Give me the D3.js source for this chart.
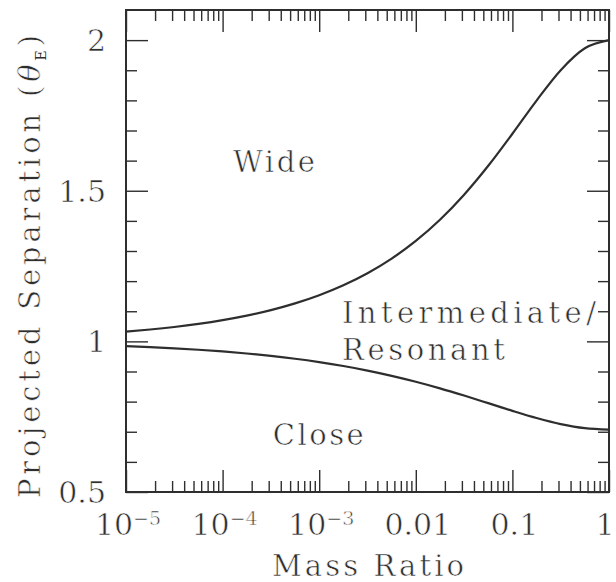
<!DOCTYPE html>
<html><head><meta charset="utf-8">
<script src="https://cdn.jsdelivr.net/npm/d3@7"></script>
<style>
html,body{margin:0;padding:0;background:#fff;}
svg{display:block;}
text{font-family:"DejaVu Serif","Liberation Serif",serif;fill:#2e2e2e;stroke:#fff;stroke-width:0.6px;}
tspan.sub{stroke:none;}
</style></head><body>
<svg id="c" width="616" height="582"></svg>
<script>
// ---- data ----
const massRatio = [1e-5,1.7783e-5,3.1623e-5,5.6234e-5,1e-4,1.7783e-4,3.1623e-4,5.6234e-4,1e-3,1.7783e-3,3.1623e-3,5.6234e-3,0.01,0.017783,0.031623,0.056234,0.1,0.177828,0.316228,0.562341,1];
const wideSep  = [1.0325,1.0394,1.0478,1.0580,1.0704,1.0854,1.1037,1.1260,1.1531,1.1861,1.2261,1.2747,1.3333,1.4036,1.4868,1.5828,1.6892,1.7994,1.9003,1.9731,2.0];
const closeSep = [0.9841,0.9809,0.9769,0.9722,0.9666,0.9598,0.9518,0.9424,0.9312,0.9182,0.9031,0.8857,0.8660,0.8441,0.8201,0.7949,0.7694,0.7455,0.7254,0.7119,0.7071];
const xMajorTicks = [1e-5,1e-4,1e-3,0.01,0.1,1];
const xTickLabels = [["10","−5"],["10","−4"],["10","−3"],["0.01",""],["0.1",""],["1",""]];
const yMajorTicks = [0.5,1,1.5,2];
const yTickLabels = ["0.5","1","1.5","2"];
const regionLabels = ["Wide","Intermediate/","Resonant","Close"];
const regionQ      = [1.28e-4,1.72e-3,1.72e-3,3.3e-4];
const regionS      = [1.562,1.061,0.938,0.656];
const regionWidth  = [82,254,163,91];

// ---- layout ----
const svg = d3.select("#c");
const L=126, R=609, T=10, B=492;
const x = d3.scaleLog().domain([1e-5,1]).range([L,R]);
const y = d3.scaleLinear().domain([0.5,2.1]).range([B,T]);
const ink="#2e2e2e";

// minor ticks
const xMinor = x.ticks().filter(v => !xMajorTicks.some(m => Math.abs(m-v)/v < 1e-6));
const yMinor = d3.range(5,21).map(i=>i/10).filter(v => !yMajorTicks.some(m=>Math.abs(m-v)<1e-9));

function styleAxis(g){ g.select(".domain").remove(); g.selectAll("line").attr("stroke",ink).attr("stroke-width",1.4); g.selectAll("text").remove(); }
svg.append("g").attr("transform",`translate(0,${B})`).call(d3.axisBottom(x).tickValues(xMajorTicks).tickSize(-22)).call(styleAxis);
svg.append("g").attr("transform",`translate(0,${B})`).call(d3.axisBottom(x).tickValues(xMinor).tickSize(-11)).call(styleAxis);
svg.append("g").attr("transform",`translate(0,${T})`).call(d3.axisTop(x).tickValues(xMajorTicks).tickSize(-22)).call(styleAxis);
svg.append("g").attr("transform",`translate(0,${T})`).call(d3.axisTop(x).tickValues(xMinor).tickSize(-11)).call(styleAxis);
svg.append("g").attr("transform",`translate(${L},0)`).call(d3.axisLeft(y).tickValues(yMajorTicks).tickSize(-22)).call(styleAxis);
svg.append("g").attr("transform",`translate(${L},0)`).call(d3.axisLeft(y).tickValues(yMinor).tickSize(-11)).call(styleAxis);
svg.append("g").attr("transform",`translate(${R},0)`).call(d3.axisRight(y).tickValues(yMajorTicks).tickSize(-22)).call(styleAxis);
svg.append("g").attr("transform",`translate(${R},0)`).call(d3.axisRight(y).tickValues(yMinor).tickSize(-11)).call(styleAxis);

// frame
svg.append("rect").attr("x",L).attr("y",T).attr("width",R-L).attr("height",B-T)
  .attr("fill","none").attr("stroke",ink).attr("stroke-width",2);

// curves
const line = d3.line().x(d=>x(d[0])).y(d=>y(d[1])).curve(d3.curveMonotoneX);
[wideSep, closeSep].forEach(s=>{
  svg.append("path").datum(massRatio.map((q,i)=>[q,s[i]])).attr("d",line)
    .attr("fill","none").attr("stroke",ink).attr("stroke-width",2.2);
});

// x tick labels
xMajorTicks.forEach((v,i)=>{
  const t = svg.append("text").attr("x",Math.min(x(v)+2,605)).attr("y",535).attr("text-anchor","middle").attr("font-size",30);
  t.append("tspan").text(xTickLabels[i][0]);
  if (xTickLabels[i][1]) t.append("tspan").attr("font-size",19).attr("dy",-10).text(xTickLabels[i][1]);
});
// y tick labels
yMajorTicks.forEach((v,i)=>{
  svg.append("text").attr("x",106).attr("y",y(v)+11).attr("text-anchor","end").attr("font-size",30).text(yTickLabels[i]);
});

// region labels
regionLabels.forEach((s,i)=>{
  svg.append("text").attr("x",x(regionQ[i])).attr("y",y(regionS[i])).attr("font-size",29)
    .attr("textLength",regionWidth[i]).attr("lengthAdjust","spacing").text(s);
});

// axis titles
svg.append("text").attr("x",272).attr("y",576).attr("font-size",29)
  .attr("textLength",192).attr("lengthAdjust","spacing").text("Mass Ratio");
const yt = svg.append("text").attr("transform","translate(40,498) rotate(-90)").attr("font-size",29)
  .attr("textLength",463).attr("lengthAdjust","spacing");
yt.append("tspan").text("Projected Separation (");
yt.append("tspan").attr("font-style","italic").text("θ");
yt.append("tspan").attr("class","sub").attr("font-size",14).attr("dy",6).text("E");
yt.append("tspan").attr("dy",-6).text(")");
</script></body></html>
